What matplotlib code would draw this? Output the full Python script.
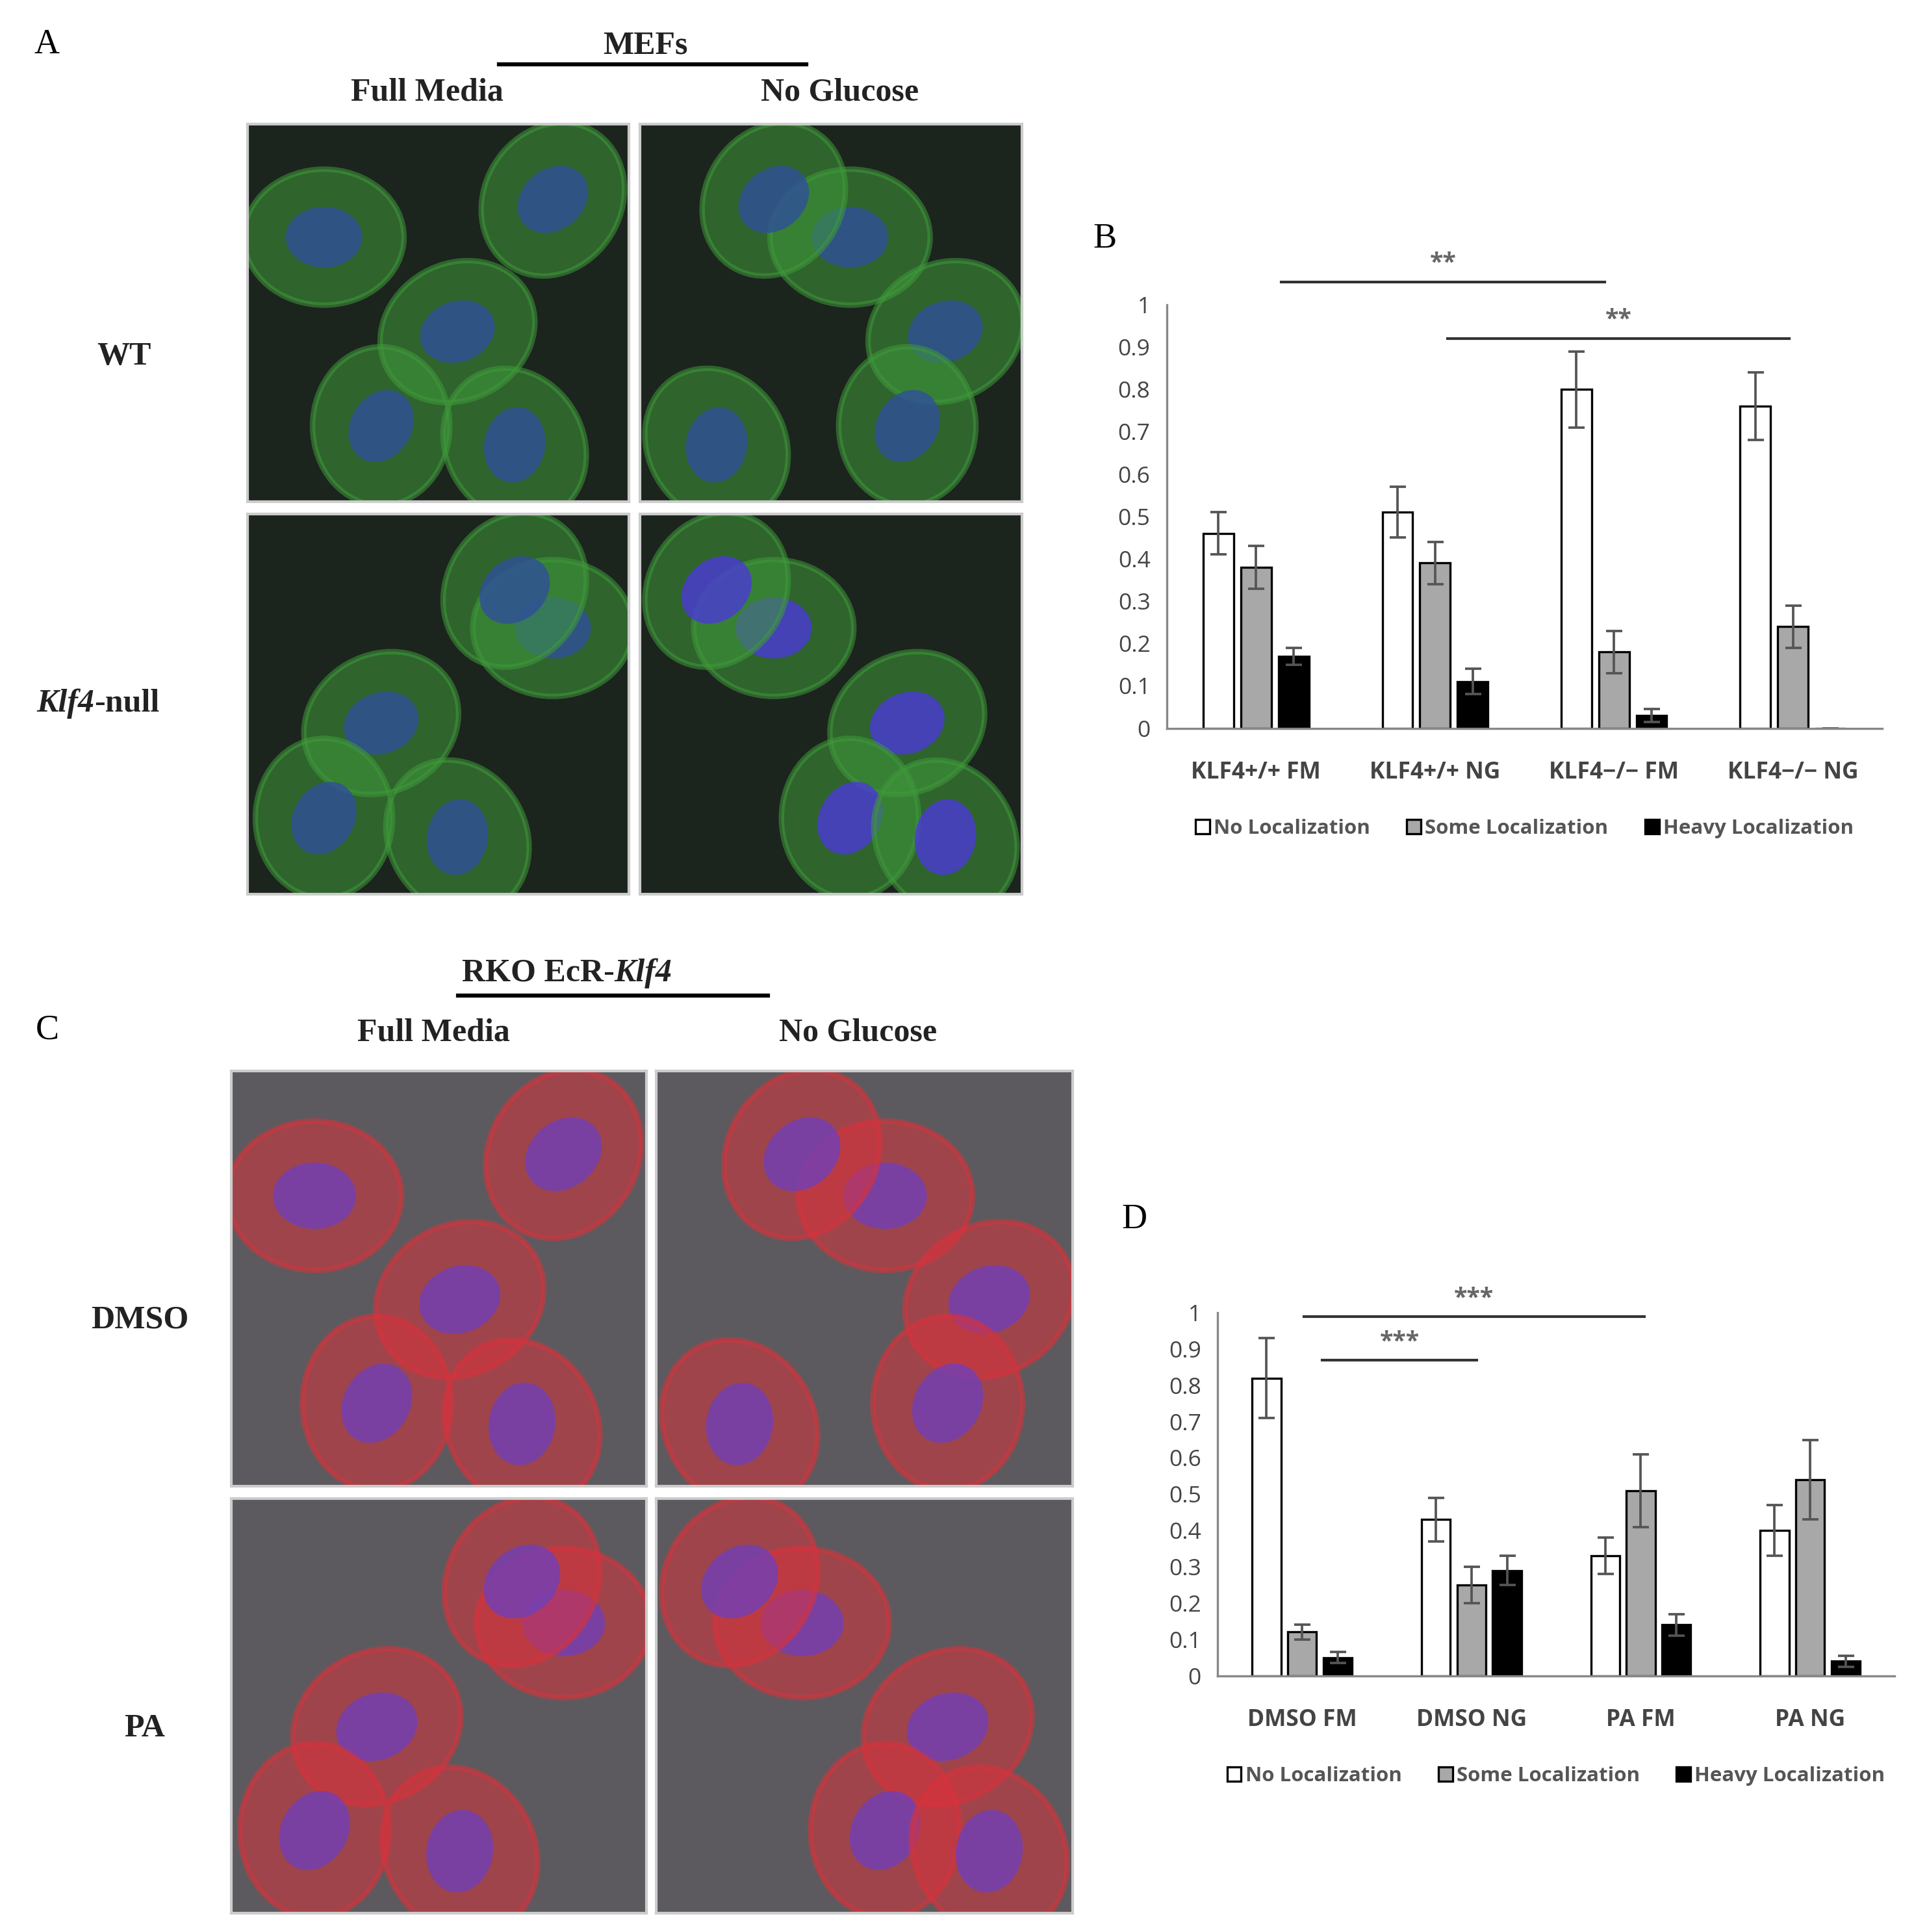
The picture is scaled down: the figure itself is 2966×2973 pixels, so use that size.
import numpy as np
import matplotlib.pyplot as plt
from matplotlib.patches import Ellipse

# bar chart data (fractions of cells)
groups_b = ['KLF4+/+ FM', 'KLF4+/+ NG', 'KLF4\u2212/\u2212 FM', 'KLF4\u2212/\u2212 NG']
no_b = [0.46, 0.51, 0.80, 0.76]
some_b = [0.38, 0.39, 0.18, 0.24]
heavy_b = [0.17, 0.11, 0.03, 0.0]
no_b_err = [0.05, 0.06, 0.09, 0.08]
some_b_err = [0.05, 0.05, 0.05, 0.05]
heavy_b_err = [0.02, 0.03, 0.015, 0.0]

groups_d = ['DMSO FM', 'DMSO NG', 'PA FM', 'PA NG']
no_d = [0.82, 0.43, 0.33, 0.40]
some_d = [0.12, 0.25, 0.51, 0.54]
heavy_d = [0.05, 0.29, 0.14, 0.04]
no_d_err = [0.11, 0.06, 0.05, 0.07]
some_d_err = [0.02, 0.05, 0.10, 0.11]
heavy_d_err = [0.015, 0.04, 0.03, 0.015]

# significance bars: (x0, x1, y, label)
sig_b = [(0.14, 1.95, 1.053, '**'), (1.07, 2.98, 0.92, '**')]
sig_d = [(0.01, 2.02, 0.99, '***'), (0.12, 1.03, 0.87, '***')]

legend_labels = ['No Localization', 'Some Localization', 'Heavy Localization']
colors = ['white', '#a8a8a8', 'black']
sans = ['Open Sans', 'DejaVu Sans']
serif = 'Liberation Serif'

W, H = 1556.0, 1560.0
fig = plt.figure(figsize=(2966 / 300, 2973 / 300), dpi=300)


def fx(px):
    return px / W


def fy(py):
    return 1 - py / H


def micro(x0, y0, x1, y1, bg, cell, nuc, shift):
    ax = fig.add_axes([fx(x0), fy(y1), fx(x1 - x0), (y1 - y0) / H])
    ax.set_facecolor(bg)
    ax.set_xlim(0, 1)
    ax.set_ylim(0, 1)
    ax.set_xticks([])
    ax.set_yticks([])
    for s in ax.spines.values():
        s.set_color('#cccccc')
        s.set_linewidth(1)
    # rough cells to suggest the micrograph
    cx = [0.2, 0.55, 0.8, 0.35, 0.7]
    cy = [0.7, 0.45, 0.8, 0.2, 0.15]
    for i in range(5):
        j = (i + shift) % 5
        ax.add_patch(Ellipse((cx[j], cy[i]), 0.42, 0.36, angle=30 * i,
                             facecolor=cell, edgecolor=cell, alpha=0.55, lw=2))
        ax.add_patch(Ellipse((cx[j], cy[i]), 0.2, 0.16, angle=20 * i,
                             facecolor=nuc, alpha=0.8, lw=0))


# panel A
g_bg, g_cell, g_nuc = '#1c241e', '#3f9a3a', '#2f4f9a'
micro(200, 100, 508, 405, g_bg, g_cell, g_nuc, 0)
micro(517, 100, 825, 405, g_bg, g_cell, g_nuc, 1)
micro(200, 415, 508, 722, g_bg, g_cell, g_nuc, 2)
micro(517, 415, 825, 722, g_bg, g_cell, '#4a3ad8', 3)
# panel C
r_bg, r_cell, r_nuc = '#5c5a5e', '#d8323c', '#7040b8'
micro(187, 865, 522, 1200, r_bg, r_cell, r_nuc, 0)
micro(530, 865, 866, 1200, r_bg, r_cell, r_nuc, 1)
micro(187, 1210, 522, 1545, r_bg, r_cell, r_nuc, 2)
micro(530, 1210, 866, 1545, r_bg, r_cell, r_nuc, 3)


def txt(px, py, s, size=12, ha='center', style='normal'):
    fig.text(fx(px), fy(py), s, family=serif, fontsize=size, fontweight='bold',
             fontstyle=style, ha=ha, va='center', color='#222222')


for lab, px, py in [('A', 38, 36), ('C', 38, 832), ('B', 892, 193), ('D', 916, 985)]:
    fig.text(fx(px), fy(py), lab, family=serif, fontsize=13, ha='center', va='center')

txt(521, 37, 'MEFs')
fig.add_artist(plt.Line2D([fx(403), fx(651)], [fy(52), fy(52)], color='black', lw=1.5))
txt(345, 75, 'Full Media')
txt(678, 75, 'No Glucose')
txt(100, 288, 'WT')
txt(76, 568, 'Klf4', ha='right', style='italic')
txt(76, 568, '-null', ha='left')

txt(496, 786, 'RKO EcR-', ha='right')
txt(496, 786, 'Klf4', ha='left', style='italic')
fig.add_artist(plt.Line2D([fx(370), fx(620)], [fy(804), fy(804)], color='black', lw=1.5))
txt(350, 834, 'Full Media')
txt(693, 834, 'No Glucose')
txt(113, 1066, 'DMSO')
txt(117, 1396, 'PA')


def bars(rect, groups, vals, errs, sig, legend_y):
    ax = fig.add_axes(rect)
    x = np.arange(len(groups))
    off = [-0.21, 0.0, 0.21]
    for k in range(3):
        ax.bar(x + off[k], vals[k], 0.17, color=colors[k], edgecolor='black', lw=0.8,
               yerr=errs[k], capsize=3, error_kw=dict(ecolor='#555555', elinewidth=0.9,
                                                      capthick=0.9),
               label=legend_labels[k])
    ax.set_xlim(-0.5, 3.5)
    ax.set_ylim(0, 1)
    ax.set_yticks(np.arange(0, 1.01, 0.1))
    ax.set_yticklabels(['0'] + ['%.1f' % v for v in np.arange(0.1, 0.95, 0.1)] + ['1'])
    ax.set_xticks(x)
    ax.set_xticklabels(groups, fontweight='bold')
    ax.tick_params(length=0, labelsize=8.5, colors='#444444', pad=6)
    ax.tick_params(axis='x', pad=12)
    for lab in ax.get_yticklabels() + ax.get_xticklabels():
        lab.set_family(sans)
    ax.spines['top'].set_visible(False)
    ax.spines['right'].set_visible(False)
    ax.spines['left'].set_color('#888888')
    ax.spines['bottom'].set_color('#888888')
    for x0, x1, y, lab in sig:
        ax.plot([x0, x1], [y, y], color='#333333', lw=1, clip_on=False)
        ax.text((x0 + x1) / 2, y + 0.015, lab, ha='center', va='bottom', fontsize=9,
                color='#666666', family=sans, fontweight='bold')
    leg = ax.legend(loc='upper center', bbox_to_anchor=(0.5, legend_y), ncol=3, frameon=False,
                    handlelength=0.7, handleheight=0.7, handletextpad=0.2,
                    columnspacing=1.8, prop={'family': sans, 'size': 7.5, 'weight': 'bold'})
    for t in leg.get_texts():
        t.set_color('#555555')
    return ax


bars([fx(942), fy(588), fx(1520 - 942), (588 - 246) / H], groups_b,
     [no_b, some_b, heavy_b], [no_b_err, some_b_err, heavy_b_err], sig_b, -0.17)
bars([fx(983), fy(1353), fx(1530 - 983), (1353 - 1060) / H], groups_d,
     [no_d, some_d, heavy_d], [no_d_err, some_d_err, heavy_d_err], sig_d, -0.2)

fig.savefig('out.png', dpi=300)
